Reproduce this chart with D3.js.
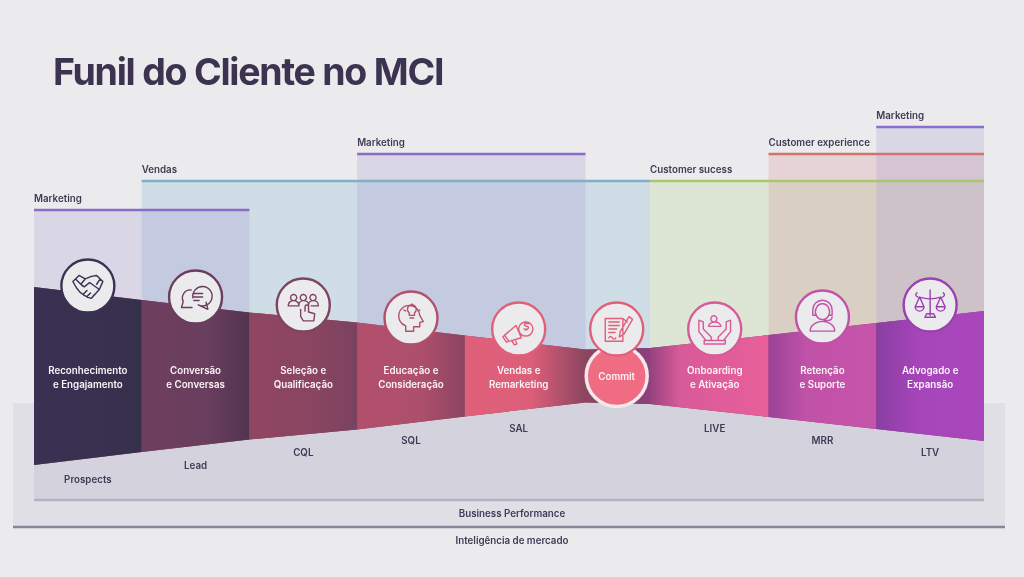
<!DOCTYPE html>
<html><head><meta charset="utf-8">
<script src="https://cdnjs.cloudflare.com/ajax/libs/d3/7.8.5/d3.min.js"></script>
<style>html,body{margin:0;padding:0;background:#ebebed}svg{display:block;filter:blur(.3px)}text{font-family:Inter,"Noto Sans",sans-serif}</style>
</head><body><svg id="c" width="1024" height="577"></svg>
<script>
// ---- data ----
const stageNames = [["Reconhecimento","e Engajamento"],["Conversão","e Conversas"],["Seleção e","Qualificação"],["Educação e","Consideração"],["Vendas e","Remarketing"],["Commit"],["Onboarding","e Ativação"],["Retenção","e Suporte"],["Advogado e","Expansão"]];
const stageSpans = [1,1,1,1,1.12,0.6,1.1,1,1];
const stageCentre = [0.5,1.5,2.5,3.5,4.5,5.41,6.32,7.32,8.32];
const funnelHalf = [89,76,63.5,53.5,40.5,26.5,28,41,53,65];
const iconLift = [90,79,71,58,47,47,47,59,71];
const metricLabels = ["Prospects","Lead","CQL","SQL","SAL","","LIVE","MRR","LTV"];
const metricDrop = [107,93,80,68,56,0,56,68,80];
const teamNames = ["Vendas","Marketing","Marketing","Customer sucess","Customer experience","Marketing"];
const teamStart = [1,0,3,6,7,8];
const teamEnd = [6,2,5,9,9,9];
const teamLevel = [195,166,222,195,222,249];
// ---- styles ----
const teamLine = ["#7fb0c6","#8a6cc6","#8a6cc6","#a9c76e","#d0736c","#8a6fd0"];
const teamFill = ["rgb(142,188,217)","rgb(163,151,209)","rgb(163,151,209)","rgb(188,218,157)","rgb(211,139,145)","rgb(163,151,209)"];
const teamAlpha = [.3,.25,.25,.3,.25,.25];
const grads = [
 [[0,"#3a3153"],[1,"#37304c"]],
 [[0,"#6f3e5e"],[.6,"#6a3e5e"],[1,"#52344f"]],
 [[0,"#8f4661"],[.6,"#8a4561"],[1,"#7a4260"]],
 [[0,"#b2506c"],[.6,"#ad4f6b"],[1,"#8b4560"]],
 [[0,"#e0607a"],[.55,"#dc5f79"],[1,"#8c4560"]],
 [[0,"#8c4560"],[.85,"#8a3f74"],[1,"#8e4080"]],
 [[0,"#94437f"],[.25,"#d85a98"],[1,"#e8609a"]],
 [[0,"#9b4299"],[.35,"#c052a8"],[1,"#c655aa"]],
 [[0,"#8a3ea2"],[.4,"#a645ba"],[1,"#aa46bc"]]];
const iconColor = ["#3a3153","#6b3d5c","#7d4460","#b0506b","#e0607a","#e0607a","#d85a98","#c052a8","#9a40b0"];
const icons = [
 "M-17,-5 L-10,-12 L-3,-8 L4,-11 L10,-12 L17,-5 L13,4 L4,14 L0,13 L-5,10 L-9,7 L-13,2 Z M-3,-8 L-8,-2 L-4,1 L2,-4 L13,4 M-5,9 L-1,5 M-1,12 L3,8 M4,14 L7,10 M-14,-8 L-6,0 M14,-8 L10,-2",
 "M-5,-8 A9,9 0 0 0 -14,5 L-16,12 L-4,12 M-3,1 A11,11 0 1 1 3,9 L14,14 L12,6 M-2,-4 H8 M-2,0 H8 M-2,4 H4",
 "M-11,-12 a3.5,3.5 0 1 0 .1,0 M0,-12 a3.5,3.5 0 1 0 .1,0 M11,-12 a3.5,3.5 0 1 0 .1,0 M-17,0 a6,5 0 0 1 12,0 v1 h-12 Z M-5,0 a5.500,5 0 0 1 11,0 v1 M6,0 a5.500,5 0 0 1 11,0 v1 h-8 M-3,5 v8 l3,5 h12 l1,-8 l-7,-2 v-6 a2,2 0 0 0 -4,0 v5",
 "M-6,15 V9 A12,12 0 1 1 10,-3 L14,4 L10,5 V10 H3 V15 Z M-2,-6 a5,5 0 1 1 6,0 v3 h-6 Z M-1,0 h4 M1,-16 v2 M-8,-9 l2,1 M10,-9 l-2,1",
 "M-16,7 L-3,-4 L3,10 L-11,14 Z M-16,7 L-18,9 L-14,15 L-11,14 M-8,13 L-5,18 L-2,17 L-4,12 M8,-8 a8,8 0 1 0 .1,0 M11,-6 a3,2 0 0 0 -4,0 a3,2 0 0 0 3,3 a3,2 0 0 1 -4,3 M8,-8.500 v2 M8,0 v1.500",
 "M-13,-12 H7 V14 H-13 Z M7,-12 L12,-8 M-9,-8 H3 M-9,-4 H3 M-9,0 H0 M-9,4 H-2 M-9,10 q2,-3 4,0 t4,0 M14,-14 L18,-11 L8,6 L3,9 L4,3 Z",
 "M-1,-15 a3.500,3.500 0 1 0 .1,0 M-7,-3 a7,5 0 0 1 14,0 Z M-18,-10 L-13,-8 V0 L-4,9 V13 H-10 L-18,3 Z M18,-10 L13,-8 V0 L4,9 V13 H10 L18,3 Z M-12,13 H12 V17 H-12 Z",
 "M0,-15 a8,9 0 1 0 .1,0 M-11,-6 V-8 A11,11 0 0 1 11,-8 V-2 H8 M-11,-6 V-2 H-8 V-8 M11,0 Q11,4 5,4 H2 M-14,16 a14,11 0 0 1 28,0 Z",
 "M0,-17 V12 M-6,14 H6 L4,10 H-4 Z M-12,-9 Q0,-5 12,-9 M-12,-9 L-17,2 H-7 Z M12,-9 L17,2 H7 Z M-17,2 a5,5 0 0 0 10,0 M7,2 a5,5 0 0 0 10,0 M-15,-14 q-3,3 1,5 M15,-14 q3,3 -1,5"
];
// ---- scales ----
const edges = d3.cumsum([0,...stageSpans]);
const x = d3.scaleLinear().domain([0,d3.sum(stageSpans)]).range([34,984]);
const centre = 376;
const y = d3.scaleLinear().domain([-200,300]).range([centre+200,centre-300]);
const edgeX = i => x(edges[i]);
const cx = i => x(stageCentre[i]);
const svg = d3.select("#c");
const ink = "#3f3a55";
const fs = 9.75;
const defs = svg.append("defs");
grads.forEach((g,i)=>{
  const lg = defs.append("linearGradient").attr("id","g"+i);
  g.forEach(s=>lg.append("stop").attr("offset",s[0]).attr("stop-color",s[1]));
});
// title
svg.append("text").attr("x",53).attr("y",85).attr("font-size",37.5).attr("font-weight",700)
  .attr("letter-spacing",-1.25).attr("fill","#3b3350").text("Funil do Cliente no MCI");
// lower panels
svg.append("rect").attr("x",13).attr("y",y(-27)).attr("width",992).attr("height",124).attr("fill","#dfdfe5");
svg.append("rect").attr("x",34).attr("y",y(-27)).attr("width",950).attr("height",97).attr("fill","#d4d2dc");
svg.append("line").attr("x1",34).attr("x2",984).attr("y1",500).attr("y2",500).attr("stroke","#b5b2bf").attr("stroke-width",2.5);
svg.append("line").attr("x1",13).attr("x2",1005).attr("y1",527).attr("y2",527).attr("stroke","#8a8599").attr("stroke-width",2.5);
const foot = (t,yy)=>svg.append("text").attr("x",512).attr("y",yy).attr("text-anchor","middle").attr("font-size",fs).attr("font-weight",600).attr("fill",ink).text(t);
foot("Business Performance",516.5); foot("Inteligência de mercado",543.5);
// team bands
teamNames.forEach((n,i)=>{
  const x0=edgeX(teamStart[i]), x1=edgeX(teamEnd[i]), t=y(teamLevel[i]);
  svg.append("rect").attr("x",x0).attr("y",t).attr("width",x1-x0).attr("height",y(0)-t)
    .attr("fill",teamFill[i]).attr("fill-opacity",teamAlpha[i]);
});
teamNames.forEach((n,i)=>{
  const x0=edgeX(teamStart[i]), x1=edgeX(teamEnd[i]), t=y(teamLevel[i]);
  svg.append("line").attr("x1",x0).attr("x2",x1).attr("y1",t).attr("y2",t).attr("stroke",teamLine[i]).attr("stroke-width",2.6);
  svg.append("text").attr("x",x0).attr("y",t-8).attr("font-size",fs).attr("font-weight",600).attr("fill",ink).text(n);
});
// funnel segments
const area = d3.area().x(d=>edgeX(d)).y0(d=>y(-funnelHalf[d])).y1(d=>y(funnelHalf[d]));
svg.append("path").attr("d",area(d3.range(10))).attr("fill","#8c4560");
stageNames.forEach((n,i)=>{
  svg.append("path").attr("d",area([i,i+1])).attr("fill",`url(#g${i})`);
});
// metric labels
metricLabels.forEach((m,i)=>{
  if(!m) return;
  svg.append("text").attr("x",cx(i)).attr("y",y(-metricDrop[i]))
    .attr("text-anchor","middle").attr("font-size",fs).attr("font-weight",600).attr("fill",ink).text(m);
});
// commit circle
svg.append("circle").attr("cx",cx(5)).attr("cy",y(0)).attr("r",30.5).attr("fill","#f06c83").attr("stroke","#f3e8ec").attr("stroke-width",3.5);
// icons
stageNames.forEach((n,i)=>{
  const g = svg.append("g").attr("transform",`translate(${cx(i)},${y(iconLift[i])})`);
  g.append("circle").attr("r",26.5).attr("fill","#ebebed").attr("stroke",iconColor[i]).attr("stroke-width",2.4);
  g.append("path").attr("d",icons[i]).attr("transform","scale(.88)").attr("fill","none").attr("stroke",iconColor[i]).attr("stroke-width",1.6).attr("stroke-linejoin","round").attr("stroke-linecap","round");
});
// stage labels
stageNames.forEach((n,i)=>{
  const t = svg.append("text").attr("text-anchor","middle").attr("font-size",fs).attr("font-weight",600).attr("fill","#fbf4f6");
  if(n.length===1){
    t.append("tspan").attr("x",cx(i)).attr("y",y(-3.5)).text(n[0]);
  } else n.forEach((l,k)=>{
    t.append("tspan").attr("x",cx(i)).attr("y",y(2-k*13.5)).text(l);
  });
});
</script></body></html>
